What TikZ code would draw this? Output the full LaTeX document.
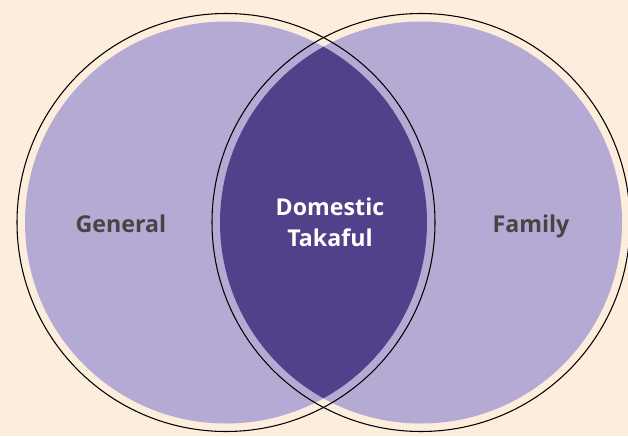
\documentclass[tikz,border=0pt]{standalone}
\usepackage{fontspec}
\setmainfont{Open Sans}
\definecolor{cream}{HTML}{FDEDDD}
\definecolor{lavender}{HTML}{B5AAD4}
\definecolor{deeppurple}{HTML}{52418A}
\definecolor{labelgray}{HTML}{454545}
\tikzset{
	outline/.style={draw=black, line width=0.6pt},
	setlabel/.style={font=\bfseries\fontsize{13.2}{17.6}\selectfont, text=labelgray, align=center},
	midlabel/.style={setlabel, text=white}
}

\begin{document}
\begin{tikzpicture}[x=0.02cm,y=-0.02cm]
			\fill[cream] (0,0) rectangle (628,436);
			\useasboundingbox (0,0) rectangle (628,436);
			\def\R{209}
			\def\r{201}
			\coordinate (lc) at (226,222.5);
			\coordinate (rc) at (421,222.5);
			% filled sets
			\fill[lavender] (lc) circle (\r);
			\fill[lavender] (rc) circle (\r);
			\begin{scope}
				\clip (lc) circle (\r);
				\fill[deeppurple] (rc) circle (\r);
			\end{scope}
			% outer rings
			\draw[outline] (lc) circle (\R);
			\draw[outline] (rc) circle (\R);

			\node[setlabel, anchor=base] (general) at (121,232) {General};
			\node[setlabel, anchor=base] (family) at (531,232) {Family};
			\node[midlabel] (domestic) at (330,222) {Domestic\\Takaful};
		\end{tikzpicture}
\end{document}
